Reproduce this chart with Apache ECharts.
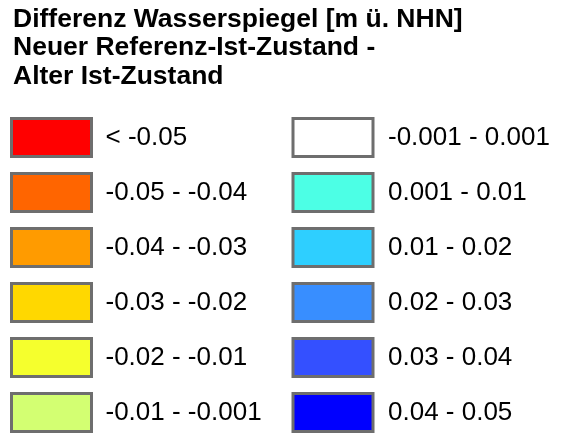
<!DOCTYPE html>
<html>
<head>
<meta charset="utf-8">
<script src="https://cdn.jsdelivr.net/npm/echarts@6/dist/echarts.min.js"></script>
<style>html,body{margin:0;padding:0;background:#fff}#c{width:572px;height:439px}</style>
</head>
<body>
<div id="c"></div>
<script>
const titleLines = ["Differenz Wasserspiegel [m ü. NHN]", "Neuer Referenz-Ist-Zustand -", "Alter Ist-Zustand"];
const leftClasses = ["< -0.05", "-0.05 - -0.04", "-0.04 - -0.03", "-0.03 - -0.02", "-0.02 - -0.01", "-0.01 - -0.001"];
const leftColors = ["#ff0000", "#ff6500", "#ff9b00", "#ffd800", "#f5ff2d", "#d3ff72"];
const rightClasses = ["-0.001 - 0.001", "0.001 - 0.01", "0.01 - 0.02", "0.02 - 0.03", "0.03 - 0.04", "0.04 - 0.05"];
const rightColors = ["#ffffff", "#4cffe5", "#2ecfff", "#388eff", "#3450ff", "#0000ff"];

const allNames = leftClasses.concat(rightClasses);
const allColors = leftColors.concat(rightColors);
const font = "'Liberation Sans', Arial, sans-serif";

const series = allNames.map((n, i) => ({
  type: 'bar', name: n, data: [],
  itemStyle: { color: allColors[i] }
}));

const legendBase = {
  orient: 'vertical', icon: 'rect', padding: 0,
  itemWidth: 80, itemHeight: 38, itemGap: 14,
  height: 420,
  selectedMode: false,
  itemStyle: { borderColor: '#6e6e6e', borderWidth: 3 },
  textStyle: { fontSize: 26, color: '#000', fontFamily: font, padding: [0, 0, 0, 9] }
};

const chart = echarts.init(document.getElementById('c'));
chart.setOption({
  animation: false,
  backgroundColor: '#fff',
  title: {
    text: titleLines.join('\n'), left: 13, top: 5, padding: 0,
    textStyle: { fontSize: 26.5, fontWeight: 'bold', color: '#000', fontFamily: font, lineHeight: 28.5 }
  },
  grid: { left: 0, top: 0, width: 1, height: 1, show: false },
  xAxis: { type: 'category', show: false, data: [] },
  yAxis: { type: 'value', show: false },
  legend: [
    Object.assign({}, legendBase, { left: 10, top: 117, data: leftClasses }),
    Object.assign({}, legendBase, { left: 291.5, top: 117, data: rightClasses,
      textStyle: Object.assign({}, legendBase.textStyle, { padding: [0, 0, 0, 10] }) })
  ],
  series: series
});
</script>
</body>
</html>
